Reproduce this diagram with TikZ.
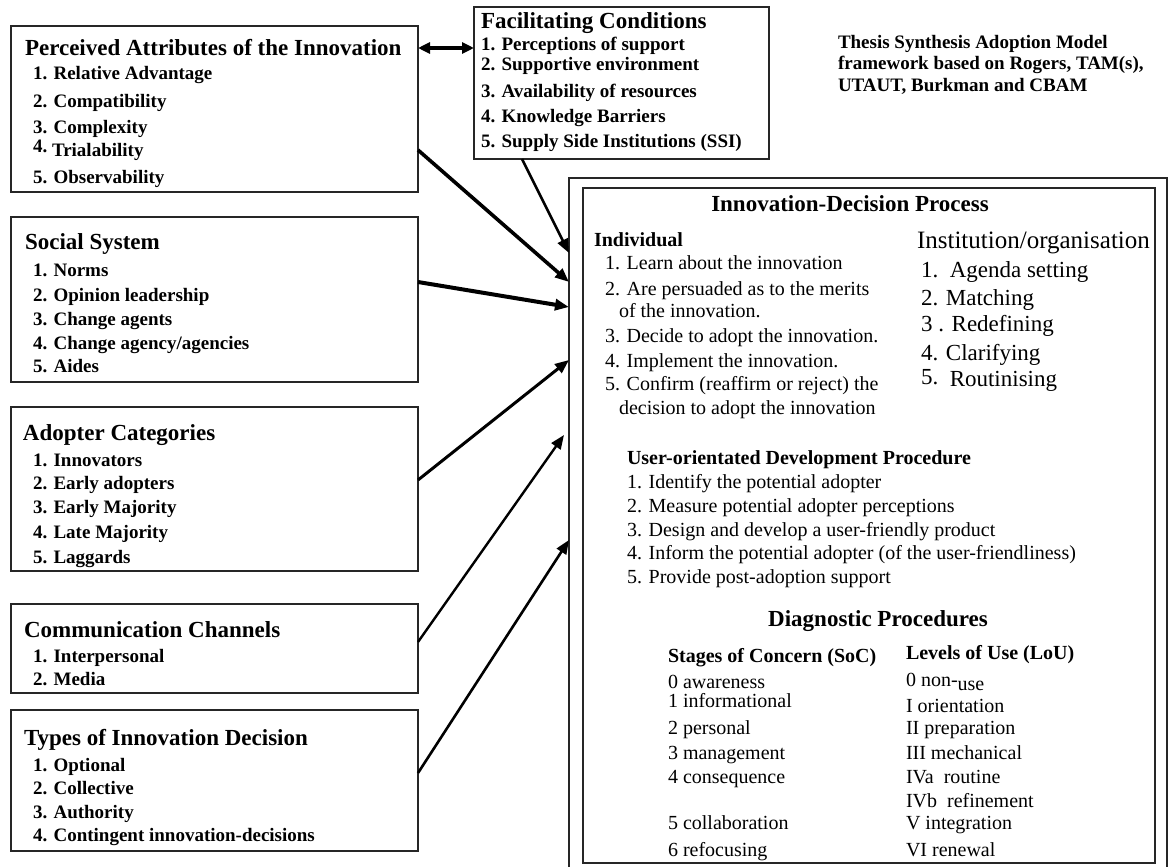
\documentclass[tikz,border=0pt]{standalone}
\usepackage{fontspec}
\setmainfont{Liberation Serif}
\usetikzlibrary{arrows.meta}
\newcommand\fttl{\fontsize{23}{23}\selectfont\bfseries}
\newcommand\fitm{\fontsize{19}{19}\selectfont\bfseries}
\newcommand\fsub{\fontsize{20}{20}\selectfont\bfseries}
\newcommand\freg{\fontsize{20}{20}\selectfont}
\newcommand\finst{\fontsize{25}{25}\selectfont}
\newcommand\finstitm{\fontsize{23}{23}\selectfont}
\tikzset{
  box/.style={draw=black!85, line width=1.5pt, inner sep=0pt, outer sep=0pt},
  txt/.style={anchor=base west, inner sep=0pt, outer sep=0pt},
  ctxt/.style={anchor=base, inner sep=0pt, outer sep=0pt},
  ttl/.style={txt, font=\fttl},
  itm/.style={txt, font=\fitm},
  sub/.style={txt, font=\fsub},
  reg/.style={txt, font=\freg},
  inst/.style={txt, font=\finst},
  institm/.style={txt, font=\finstitm},
  arr/.style={-{Triangle[length=14pt,width=11pt]}, draw=black},
  dbl/.style={{Triangle[length=12pt,width=11pt]}-{Triangle[length=12pt,width=11pt]}, draw=black, line width=3.5pt},
}
\begin{document}
\begin{tikzpicture}[x=1pt,y=-1pt]
\useasboundingbox (0,0) rectangle (1171,867);
\fill[white] (0,0) rectangle (1171,867);

% left boxes
\node[box, minimum width=407pt, minimum height=166pt] (pa) at (214.5,109) {};
\node[box, minimum width=295pt, minimum height=152pt] (fc) at (621.5,83) {};
\node[box, minimum width=407pt, minimum height=165pt] (ss) at (214.5,299.5) {};
\node[box, minimum width=407pt, minimum height=164pt] (ac) at (214.5,489) {};
\node[box, minimum width=407pt, minimum height=89pt] (cc) at (214.5,648.5) {};
\node[box, minimum width=407pt, minimum height=141pt] (tid) at (214.5,780.5) {};

% Perceived attributes
\node[ttl] (pat) at (25,56) {Perceived Attributes of the Innovation};
\node[itm] (pa1) at (33,80) {1. Relative Advantage};
\node[itm] (pa2) at (33,107) {2. Compatibility};
\node[itm] (pa3) at (33,133) {3. Complexity};
\node[itm] (pa4) at (33,156) {\raisebox{3pt}{4.}\ Trialability};
\node[itm] (pa5) at (33,183) {5. Observability};

% Facilitating conditions
\node[ttl] (fct) at (481,29) {Facilitating Conditions};
\node[itm] (fc1) at (481,51) {1. Perceptions of support};
\node[itm] (fc2) at (481,71) {2. Supportive environment};
\node[itm] (fc3) at (481,98) {3. Availability of resources};
\node[itm] (fc4) at (481,122) {4. Knowledge Barriers};
\node[itm] (fc5) at (481,147) {5. Supply Side Institutions (SSI)};

% top right note
\node[itm] (n1) at (838,49) {Thesis Synthesis Adoption Model};
\node[itm] (n2) at (838,70) {framework based on Rogers, TAM(s),};
\node[itm] (n3) at (838,92) {UTAUT, Burkman and CBAM};

% Social system
\node[ttl] (sst) at (25,249) {Social System};
\node[itm] (ss1) at (33,276) {1. Norms};
\node[itm] (ss2) at (33,301) {2. Opinion leadership};
\node[itm] (ss3) at (33,325) {3. Change agents};
\node[itm] (ss4) at (33,349) {4. Change agency/agencies};
\node[itm] (ss5) at (33,372) {5. Aides};

% Adopter categories
\node[ttl] (act) at (23,440) {Adopter Categories};
\node[itm] (ac1) at (33,466) {1. Innovators};
\node[itm] (ac2) at (33,489) {2. Early adopters};
\node[itm] (ac3) at (33,513) {3. Early Majority};
\node[itm] (ac4) at (33,538) {4. Late Majority};
\node[itm] (ac5) at (33,563) {5. Laggards};

% Communication channels
\node[ttl] (cct) at (24,637) {Communication Channels};
\node[itm] (cc1) at (33,662) {1. Interpersonal};
\node[itm] (cc2) at (33,685) {2. Media};

% Types of innovation decision
\node[ttl] (tidt) at (24,745) {Types of Innovation Decision};
\node[itm] (td1) at (33,771) {1. Optional};
\node[itm] (td2) at (33,794) {2. Collective};
\node[itm] (td3) at (33,818) {3. Authority};
\node[itm] (td4) at (33,841) {4. Contingent innovation-decisions};

% big box
\draw[draw=black!85, line width=1.5pt] (569,868) -- (569,178) -- (1167,178) -- (1167,868);
\node[box, minimum width=572pt, minimum height=675pt] (idp) at (869,525.5) {};

\node[ctxt, font=\fttl] (idpt) at (850,211) {Innovation-Decision Process};
\node[sub] (ind) at (594,246) {Individual};
\node[reg] (i1) at (605,269) {1. Learn about the innovation};
\node[reg] (i2) at (605,295) {2. Are persuaded as to the merits};
\node[reg] (i2b) at (619,317) {of the innovation.};
\node[reg] (i3) at (605,342) {3. Decide to adopt the innovation.};
\node[reg] (i4) at (605,367) {4. Implement the innovation.};
\node[reg] (i5) at (605,390) {5. Confirm (reaffirm or reject) the};
\node[reg] (i5b) at (619,414) {decision to adopt the innovation};

\node[inst] (inst) at (917,248) {Institution/organisation};
\node[institm] (o1) at (921,277) {1.\ \ Agenda setting};
\node[institm] (o2) at (921,305) {2. Matching};
\node[institm] (o3) at (921,331) {3 . Redefining};
\node[institm] (o4) at (921,360) {4. Clarifying};
\node[institm] (o5) at (921,386) {\raisebox{2pt}{5.}\ \ Routinising};

\node[sub] (udp) at (627,464) {User-orientated Development Procedure};
\node[reg] (u1) at (627,488) {1. Identify the potential adopter};
\node[reg] (u2) at (627,512) {2. Measure potential adopter perceptions};
\node[reg] (u3) at (627,536) {3. Design and develop a user-friendly product};
\node[reg] (u4) at (627,559) {4. Inform the potential adopter (of the user-friendliness)};
\node[reg] (u5) at (627,583) {5. Provide post-adoption support};

\node[ctxt, font=\fttl] (dp) at (878,626) {Diagnostic Procedures};
\node[sub] (soc) at (668,662) {Stages of Concern (SoC)};
\node[reg] (s0) at (668,688) {0 awareness};
\node[reg] (s1) at (668,707) {1 informational};
\node[reg] (s2) at (668,734) {2 personal};
\node[reg] (s3) at (668,759) {3 management};
\node[reg] (s4) at (668,783) {4 consequence};
\node[reg] (s5) at (668,829) {5 collaboration};
\node[reg] (s6) at (668,856) {6 refocusing};

\node[sub] (lou) at (906,659) {Levels of Use (LoU)};
\node[reg] (l0) at (906,686) {0 non-\raisebox{-4pt}{use}};
\node[reg] (l1) at (906,712) {I orientation};
\node[reg] (l2) at (906,734) {II preparation};
\node[reg] (l3) at (906,759) {III mechanical};
\node[reg] (l4) at (906,783) {IVa\ \ routine};
\node[reg] (l5) at (906,807) {IVb\ \ refinement};
\node[reg] (l6) at (906,829) {V integration};
\node[reg] (l7) at (906,856) {VI renewal};

% arrow targets on the big box
\coordinate (e1) at (569,253);
\coordinate (e2) at (569,282);
\coordinate (e3) at (569,307);
\coordinate (e4) at (569,360);
\coordinate (e5) at (564,435);
\coordinate (e6) at (569,540);

% connectors
\draw[dbl] ([yshift=61pt]pa.east) -- ([yshift=35pt]fc.west);
\draw[arr, line width=2.6pt] ([xshift=-99.5pt]fc.south) -- (e1);
\draw[arr, line width=3.6pt] ([yshift=-41pt]pa.east) -- (e2);
\draw[arr, line width=4pt] ([yshift=17.5pt]ss.east) -- (e3);
\draw[arr, line width=3pt] ([yshift=9pt]ac.east) -- (e4);
\draw[arr, line width=2.4pt] ([yshift=6.5pt]cc.east) -- (e5);
\draw[arr, line width=2.6pt] ([yshift=7.5pt]tid.east) -- (e6);
\end{tikzpicture}
\end{document}
